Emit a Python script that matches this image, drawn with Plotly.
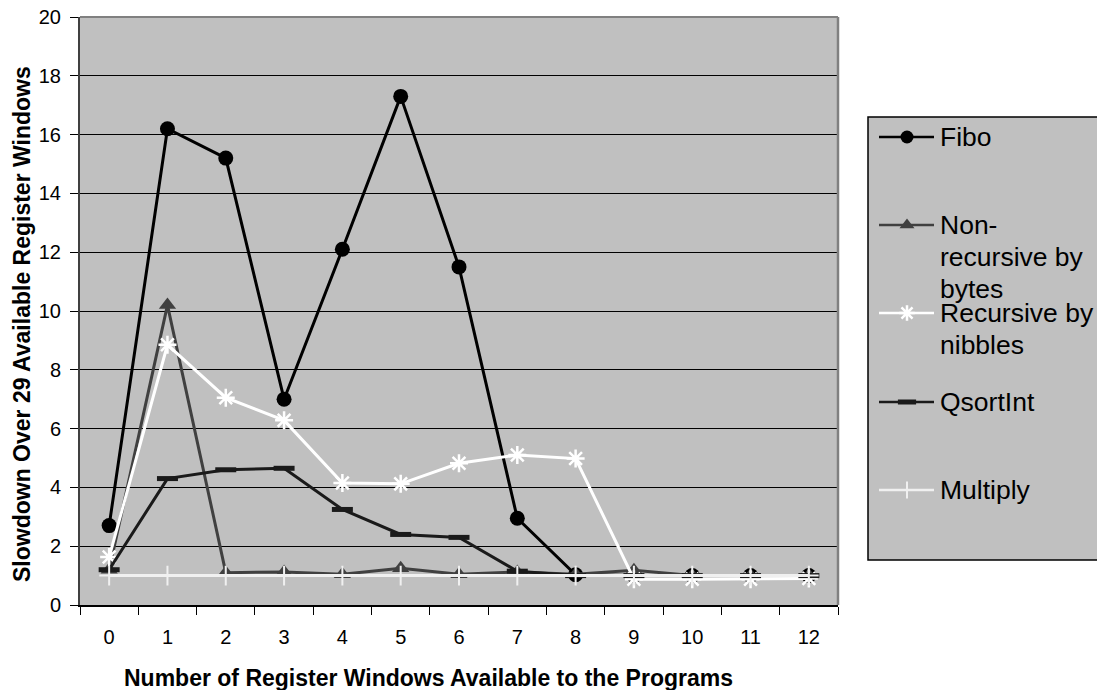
import plotly.graph_objects as go

categories = [str(i) for i in range(13)]
fibo = [2.7, 16.2, 15.2, 7.0, 12.1, 17.3, 11.5, 2.95, 1.03, 1.0, 1.0, 1.0, 1.0]
nonrec_bytes = [1.2, 10.2, 1.1, 1.12, 1.05, 1.25, 1.05, 1.12, 1.05, 1.18, 1.0, 1.0, 1.0]
rec_nibbles = [1.63, 8.85, 7.05, 6.28, 4.15, 4.12, 4.82, 5.1, 4.98, 0.88, 0.88, 0.88, 0.9]
qsortint = [1.2, 4.3, 4.6, 4.65, 3.25, 2.4, 2.3, 1.15, 1.0, 1.0, 1.0, 1.0, 1.0]
multiply = [1.0] * 13
y_ticks = list(range(0, 21, 2))

W, H = 1097, 690
# plot area in pixels
PL, PR, PT, PB = 80, 838, 17, 605
FONT = "Arial, Liberation Sans, sans-serif"

series = [
    ("Fibo", fibo, "#000000", "circle", 15, None, "#000000"),
    ("Non-recursive by bytes", nonrec_bytes, "#404040", "triangle-up", 15, None, "#404040"),
    ("Recursive by nibbles", rec_nibbles, "#ffffff", "asterisk-open", 15, 2.5, "#ffffff"),
    ("QsortInt", qsortint, "#1a1a1a", "line-ew-open", 15, 5, "#1a1a1a"),
    ("Multiply", multiply, "#f0f0f0", "cross-thin-open", 14, 2, "#f0f0f0"),
]

fig = go.Figure()
for name, vals, color, sym, size, lw, mcolor in series:
    marker = dict(symbol=sym, size=size, color=mcolor)
    if lw:
        marker["line"] = dict(color=mcolor, width=lw)
    fig.add_trace(go.Scatter(
        x=categories, y=vals, name=name, mode="lines+markers",
        line=dict(color=color, width=3), marker=marker,
        showlegend=False, xaxis="x", yaxis="y", cliponaxis=False,
    ))

# manual legend (Excel-style)
LX0, LY0, LX1, LY1 = 868, 117, 1110, 560
LINE_H = 32
legend_rows = [
    (["Fibo"], 137),
    (["Non-", "recursive by", "bytes"], 225),
    (["Recursive by", "nibbles"], 313),
    (["QsortInt"], 402),
    (["Multiply"], 490),
]
shapes = []
annotations = []
# plot area background
shapes.append(dict(type="rect", xref="paper", yref="paper",
                   x0=PL / W, x1=PR / W, y0=1 - PB / H, y1=1 - PT / H,
                   fillcolor="#c0c0c0", line=dict(width=0), layer="below"))
# legend box
shapes.append(dict(type="rect", xref="paper", yref="paper",
                   x0=LX0 / W, x1=LX1 / W, y0=1 - LY1 / H, y1=1 - LY0 / H,
                   fillcolor="#c0c0c0", line=dict(color="#000000", width=1.5), layer="below"))
for (name, vals, color, sym, size, lw, mcolor), (lines, yy) in zip(series, legend_rows):
    fig.add_trace(go.Scatter(
        x=[879, 934], y=[yy, yy], mode="lines", line=dict(color=color, width=2.5),
        xaxis="x2", yaxis="y2", showlegend=False, hoverinfo="skip"))
    m = dict(symbol=sym, size=size - 2, color=mcolor)
    if lw:
        m["line"] = dict(color=mcolor, width=lw)
    fig.add_trace(go.Scatter(
        x=[907], y=[yy], mode="markers", marker=m,
        xaxis="x2", yaxis="y2", showlegend=False, hoverinfo="skip"))
    for i, t in enumerate(lines):
        annotations.append(dict(text=t, xref="paper", yref="paper",
                                x=938 / W, y=1 - (yy + i * LINE_H) / H, xanchor="left", yanchor="middle",
                                showarrow=False, font=dict(family=FONT, size=26.5, color="#000000")))

# axis titles
annotations.append(dict(text="<b>Number of Register Windows Available to the Programs</b>",
                        xref="paper", yref="paper", x=428 / W, y=1 - 678 / H,
                        xanchor="center", yanchor="middle", showarrow=False,
                        font=dict(family=FONT, size=23, color="#000000")))
annotations.append(dict(text="<b>Slowdown Over 29 Available Register Windows</b>",
                        xref="paper", yref="paper", x=22 / W, y=1 - 324 / H,
                        xanchor="center", yanchor="middle", showarrow=False, textangle=-90,
                        font=dict(family=FONT, size=23, color="#000000")))

# plot border (top & right)
shapes.append(dict(type="line", xref="paper", yref="paper",
                   x0=PL / W, x1=PR / W, y0=1 - PT / H, y1=1 - PT / H,
                   line=dict(color="#808080", width=2), layer="above"))
shapes.append(dict(type="line", xref="paper", yref="paper",
                   x0=PR / W, x1=PR / W, y0=1 - PB / H, y1=1 - PT / H,
                   line=dict(color="#808080", width=2.5), layer="above"))

fig.update_layout(
    width=W, height=H,
    autosize=False,
    margin=dict(l=0, r=0, t=0, b=0, pad=0, autoexpand=False),
    paper_bgcolor="#ffffff",
    plot_bgcolor="rgba(0,0,0,0)",
    showlegend=False,
    shapes=shapes,
    annotations=annotations,
    xaxis=dict(
        domain=[PL / W, PR / W], anchor="y", automargin=False,
        type="category", range=[-0.5, 12.5],
        showgrid=False, zeroline=False,
        ticks="outside", ticklen=8, tickcolor="#000000", tickwidth=1,
        tickson="boundaries", ticklabelstandoff=13,
        showline=True, linecolor="#000000", linewidth=2,
        tickfont=dict(family=FONT, size=20, color="#000000"),
        fixedrange=True,
    ),
    yaxis=dict(
        domain=[1 - PB / H, 1 - PT / H], anchor="x", automargin=False,
        range=[0, 20], tickvals=y_ticks, ticklabelstandoff=5,
        showgrid=True, gridcolor="#000000", gridwidth=1,
        zeroline=False,
        ticks="outside", ticklen=8, tickcolor="#000000", tickwidth=1,
        showline=True, linecolor="#404040", linewidth=2,
        tickfont=dict(family=FONT, size=20, color="#000000"),
        fixedrange=True,
    ),
    xaxis2=dict(domain=[0, 1], anchor="y2", range=[0, W], visible=False,
                fixedrange=True, automargin=False),
    yaxis2=dict(domain=[0, 1], anchor="x2", range=[H, 0], visible=False,
                fixedrange=True, automargin=False),
)

fig.write_html("out.html", config={"displayModeBar": False})
